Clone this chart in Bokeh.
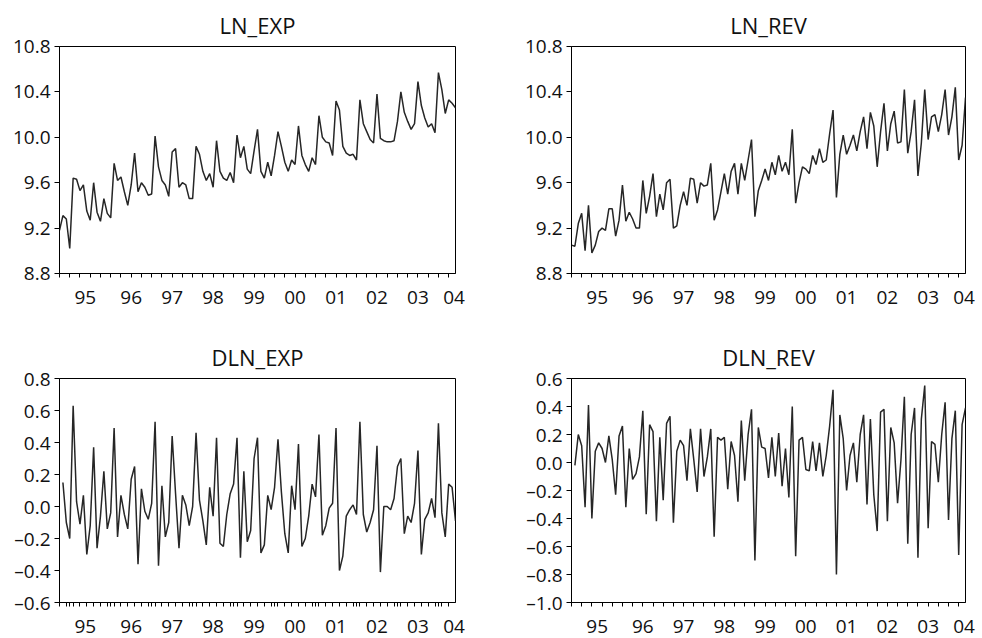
from bokeh.plotting import figure
from bokeh.layouts import column, row
from bokeh.models import Range1d, LinearAxis, FixedTicker, CustomJSTickFormatter
from bokeh.embed import file_html
from bokeh.resources import INLINE

# ---------------- data (monthly, first observation Oct 1994) ----------------
start_year = 1994
start_month = 10

ln_exp = [9.18, 9.31, 9.28, 9.02, 9.64, 9.63, 9.53, 9.58, 9.35, 9.27,
          9.60, 9.34, 9.26, 9.46, 9.33, 9.29, 9.77, 9.62, 9.65, 9.52,
          9.40, 9.58, 9.86, 9.52, 9.60, 9.56, 9.49, 9.50, 10.01, 9.74,
          9.62, 9.58, 9.48, 9.87, 9.90, 9.56, 9.60, 9.58, 9.46, 9.46,
          9.92, 9.85, 9.70, 9.62, 9.68, 9.56, 9.97, 9.70, 9.64, 9.62,
          9.69, 9.60, 10.02, 9.82, 9.92, 9.72, 9.68, 9.88, 10.07, 9.70,
          9.64, 9.78, 9.66, 9.84, 10.05, 9.92, 9.78, 9.70, 9.80, 9.76,
          10.10, 9.84, 9.76, 9.70, 9.82, 9.76, 10.19, 10.00, 9.96, 9.95,
          9.84, 10.32, 10.24, 9.92, 9.86, 9.84, 9.85, 9.80, 10.33, 10.12,
          10.05, 9.98, 9.95, 10.38, 9.99, 9.97, 9.96, 9.96, 9.97, 10.14,
          10.40, 10.22, 10.14, 10.07, 10.12, 10.49, 10.28, 10.17, 10.09, 10.12,
          10.04, 10.57, 10.42, 10.21, 10.33, 10.30, 10.26]

ln_rev = [9.05, 9.04, 9.24, 9.33, 9.00, 9.40, 8.98, 9.05, 9.17, 9.20,
          9.18, 9.37, 9.37, 9.13, 9.27, 9.58, 9.26, 9.34, 9.28, 9.20,
          9.20, 9.62, 9.33, 9.48, 9.68, 9.30, 9.50, 9.36, 9.60, 9.63,
          9.20, 9.22, 9.40, 9.52, 9.40, 9.64, 9.63, 9.42, 9.60, 9.57,
          9.58, 9.77, 9.27, 9.36, 9.52, 9.68, 9.50, 9.70, 9.77, 9.50,
          9.77, 9.62, 9.80, 9.98, 9.30, 9.53, 9.62, 9.72, 9.62, 9.78,
          9.67, 9.84, 9.70, 9.78, 9.67, 10.07, 9.42, 9.60, 9.74, 9.72,
          9.68, 9.84, 9.76, 9.90, 9.78, 9.80, 10.03, 10.24, 9.47, 9.85,
          10.02, 9.85, 9.93, 10.02, 9.88, 10.05, 10.18, 9.90, 10.22, 10.10,
          9.74, 10.05, 10.30, 9.88, 10.12, 10.23, 9.95, 9.96, 10.42, 9.86,
          10.05, 10.33, 9.66, 9.95, 10.42, 9.98, 10.18, 10.20, 10.05, 10.20,
          10.42, 10.02, 10.18, 10.44, 9.80, 9.93, 10.35]

# first differences start one month later (Nov 1994)
dln_exp = [0.15, -0.10, -0.20, 0.63, 0.03, -0.11, 0.07, -0.30, -0.12, 0.37,
           -0.26, -0.06, 0.22, -0.14, -0.04, 0.49, -0.19, 0.07, -0.05, -0.14,
           0.17, 0.25, -0.36, 0.11, -0.03, -0.08, 0.02, 0.53, -0.37, 0.13,
           -0.19, -0.10, 0.44, 0.08, -0.26, 0.07, 0.01, -0.12, 0.00, 0.46,
           0.04, -0.09, -0.24, 0.12, -0.06, 0.43, -0.23, -0.25, -0.05, 0.08,
           0.14, 0.43, -0.32, 0.22, -0.22, -0.15, 0.30, 0.43, -0.29, -0.24,
           0.07, -0.02, 0.12, 0.42, 0.09, -0.17, -0.29, 0.13, -0.02, 0.39,
           -0.25, -0.20, -0.06, 0.14, 0.06, 0.45, -0.18, -0.12, -0.01, 0.02,
           0.49, -0.40, -0.31, -0.06, -0.02, 0.01, -0.05, 0.53, -0.05, -0.16,
           -0.10, -0.02, 0.38, -0.41, 0.00, 0.00, -0.02, 0.05, 0.25, 0.30,
           -0.17, -0.06, -0.10, 0.02, 0.35, -0.30, -0.08, -0.04, 0.05, -0.07,
           0.52, -0.04, -0.19, 0.14, 0.12, -0.09]

dln_rev = [-0.02, 0.20, 0.12, -0.32, 0.41, -0.40, 0.08, 0.14, 0.10, 0.00,
           0.19, 0.02, -0.23, 0.19, 0.26, -0.32, 0.10, -0.12, -0.08, 0.04,
           0.37, -0.37, 0.27, 0.22, -0.42, 0.18, -0.27, 0.28, 0.33, -0.43,
           0.08, 0.16, 0.12, -0.13, 0.24, 0.02, -0.21, 0.24, -0.10, 0.04,
           0.24, -0.53, 0.18, 0.16, 0.18, -0.19, 0.15, 0.05, -0.28, 0.30,
           -0.13, 0.20, 0.38, -0.70, 0.25, 0.11, 0.10, -0.11, 0.18, -0.10,
           0.21, -0.17, 0.10, -0.25, 0.40, -0.67, 0.16, 0.18, -0.05, -0.06,
           0.15, -0.06, 0.14, -0.10, 0.05, 0.26, 0.52, -0.80, 0.34, 0.17,
           -0.20, 0.05, 0.14, -0.14, 0.20, 0.34, -0.30, 0.31, -0.23, -0.49,
           0.36, 0.38, -0.42, 0.25, 0.14, -0.29, 0.02, 0.47, -0.58, 0.20,
           0.39, -0.68, 0.31, 0.55, -0.47, 0.15, 0.13, -0.14, 0.20, 0.43,
           -0.41, 0.17, 0.37, -0.66, 0.27, 0.39]

# axis tick values / labels
year_ticks = [1995, 1996, 1997, 1998, 1999, 2000, 2001, 2002, 2003, 2004]
year_label_pos = [1995.38, 1996.5, 1997.5, 1998.5, 1999.5, 2000.5,
                  2001.5, 2002.5, 2003.5, 2004.38]
y_ticks_ln = [8.8, 9.2, 9.6, 10.0, 10.4, 10.8]
y_ticks_dexp = [-0.6, -0.4, -0.2, 0.0, 0.2, 0.4, 0.6, 0.8]
y_ticks_drev = [-1.0, -0.8, -0.6, -0.4, -0.2, 0.0, 0.2, 0.4, 0.6]

FONT = "Open Sans"
TEXT = "#111111"
LINE = "#262626"


def month_positions(offset, n):
    return [start_year + (start_month - 1 + offset + k) / 12.0 for k in range(n)]


x_ln = month_positions(0, len(ln_exp))
x_dln = month_positions(1, len(dln_exp))
x_lo, x_hi = x_ln[0], x_ln[-1]


def sub_ticks(step):
    out = []
    k = 0
    while True:
        v = x_lo + k * step
        if v > x_hi + 1e-9:
            break
        out.append(v)
        k += 1
    return out


year_fmt = CustomJSTickFormatter(code="""
    const y = Math.floor(tick + 1e-6) % 100;
    return (y < 10 ? '0' : '') + y;
""")
y_fmt = CustomJSTickFormatter(code="""
    const v = Math.round(tick * 10) / 10;
    return (v < 0 ? '\\u2013' : '') + Math.abs(v).toFixed(1);
""")


def panel(title, xs, ys, y_ticks, minor_step, width, height,
          b_left, b_right, b_top, b_bottom):
    p = figure(width=width, height=height, output_backend="svg",
               toolbar_location=None, x_axis_location=None, y_axis_location=None,
               x_range=Range1d(x_lo, x_hi),
               y_range=Range1d(y_ticks[0], y_ticks[-1]),
               min_border_left=b_left, min_border_right=b_right,
               min_border_top=b_top, min_border_bottom=b_bottom,
               background_fill_color="white", border_fill_color="white")
    p.grid.visible = False
    p.outline_line_color = "black"
    p.outline_line_width = 1
    p.outline_line_alpha = 1.0

    p.title.text = title
    p.title.align = "center"
    p.title.text_font = FONT
    p.title.text_font_size = "22px"
    p.title.text_font_style = "normal"
    p.title.text_color = TEXT
    p.title.standoff = 13

    p.line(xs, ys, line_color=LINE, line_width=1.5)

    minor = sorted(set(round(v, 6) for v in year_ticks + sub_ticks(minor_step)))
    xa = LinearAxis(ticker=FixedTicker(ticks=year_label_pos, minor_ticks=minor),
                    formatter=year_fmt,
                    major_tick_out=0, major_tick_in=0, major_tick_line_color=None,
                    minor_tick_out=4, minor_tick_in=0, minor_tick_line_color="black",
                    axis_line_color="black",
                    major_label_standoff=13,
                    major_label_text_font=FONT,
                    major_label_text_font_size="19px",
                    major_label_text_color=TEXT)
    p.add_layout(xa, "below")

    ya = LinearAxis(ticker=FixedTicker(ticks=y_ticks, minor_ticks=[]),
                    formatter=y_fmt,
                    major_tick_out=5, major_tick_in=0,
                    minor_tick_out=0, minor_tick_in=0,
                    axis_line_color="black", major_tick_line_color="black",
                    major_label_standoff=4,
                    major_label_text_font=FONT,
                    major_label_text_font_size="19px",
                    major_label_text_color=TEXT)
    p.add_layout(ya, "left")
    return p


p1 = panel("LN_EXP", x_ln, ln_exp, y_ticks_ln, 0.25, 519, 317, 59, 64, 46, 44)
p2 = panel("LN_REV", x_ln, ln_rev, y_ticks_ln, 0.25, 458, 317, 52, 12, 46, 44)
p3 = panel("DLN_EXP", x_dln, dln_exp, y_ticks_dexp, 1.0 / 6.0, 519, 320, 59, 64, 61, 35)
p4 = panel("DLN_REV", x_dln, dln_rev, y_ticks_drev, 0.25, 458, 320, 52, 12, 61, 35)

layout = column(row(p1, p2), row(p3, p4))

open("out.html", "w").write(file_html(layout, INLINE))
